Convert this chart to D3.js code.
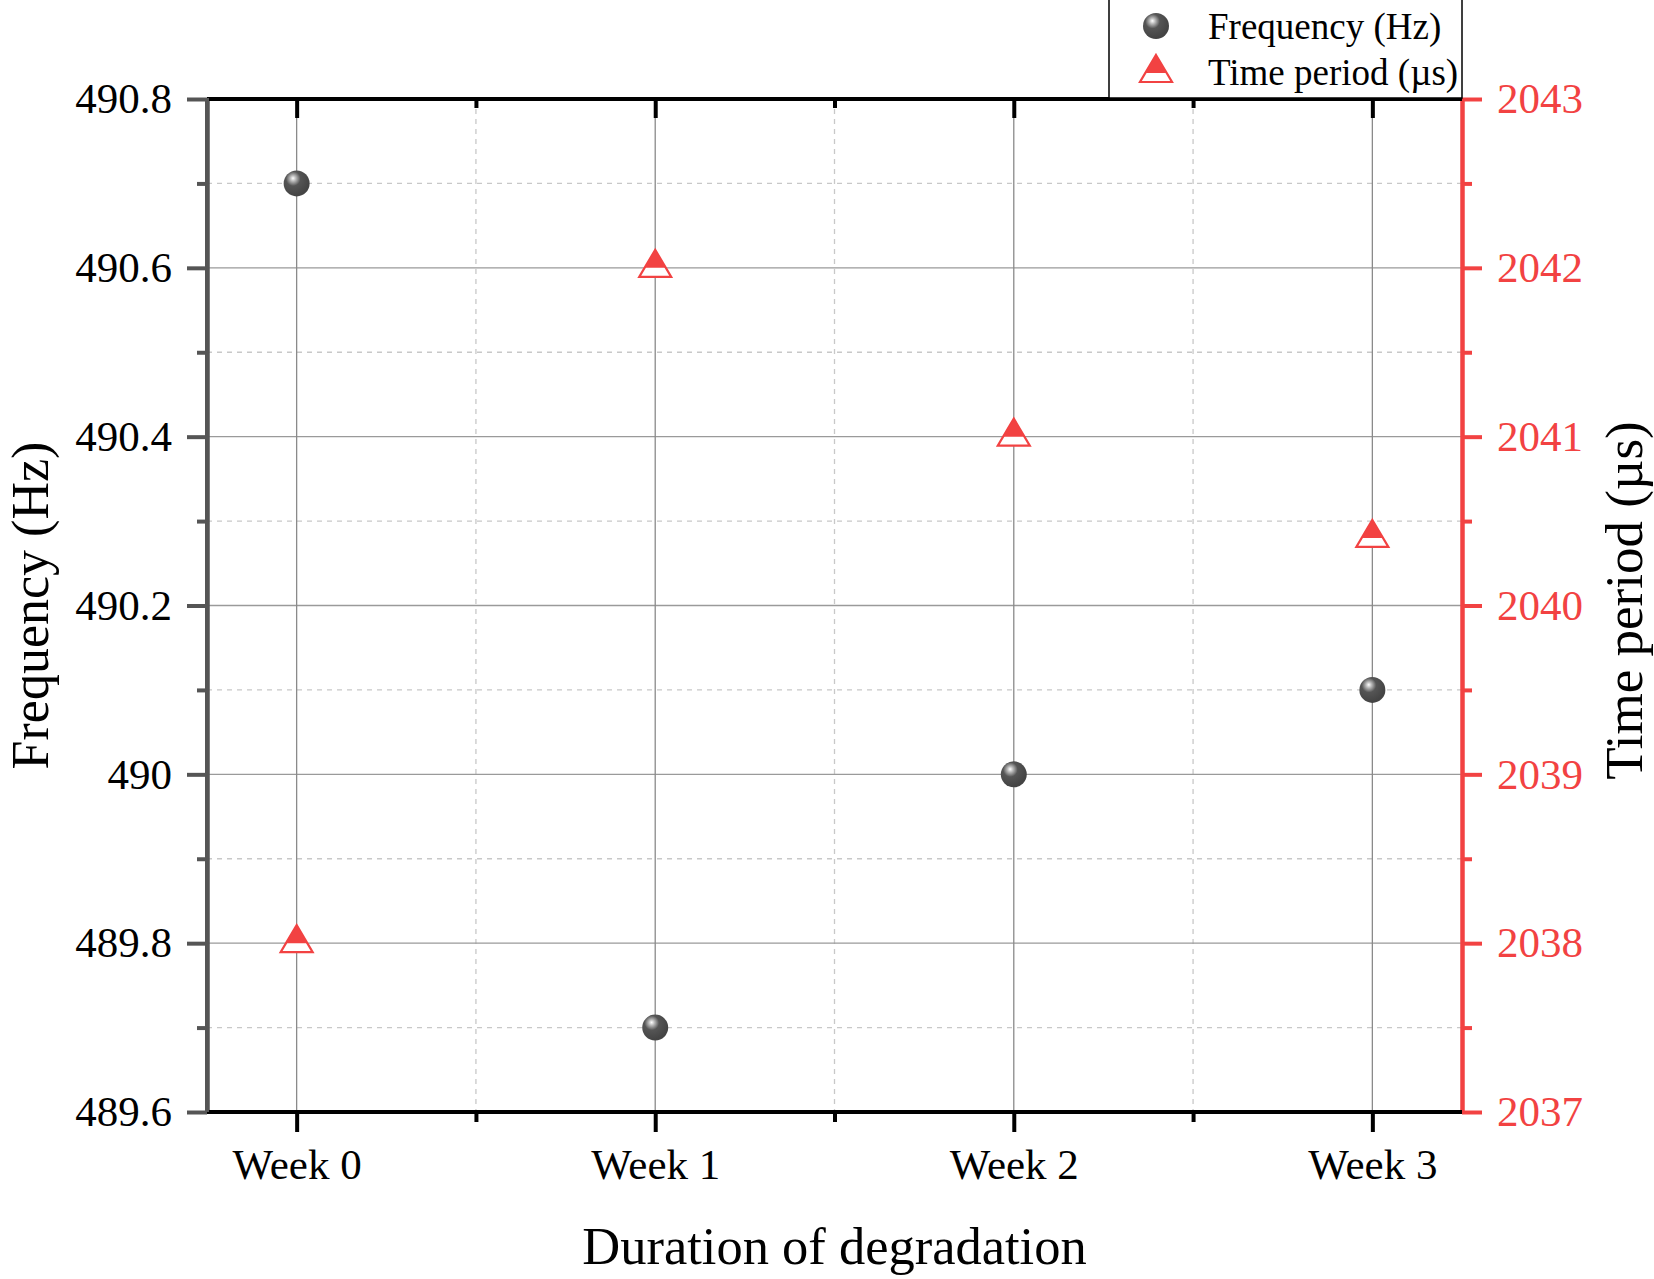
<!DOCTYPE html>
<html>
<head>
<meta charset="utf-8">
<script src="https://cdn.jsdelivr.net/npm/d3@7"></script>
<style>
    body { margin: 0; background: #fff; }
    svg { display: block; font-family: "Liberation Serif", "Times New Roman", serif; }
</style>
</head>
<body>
<div id="chart"></div>
<script>
const weeks = ['Week 0', 'Week 1', 'Week 2', 'Week 3'];
const frequency = [490.7, 489.7, 490.0, 490.1];
const timePeriod = [2038, 2042, 2041, 2040.4];
const freqTicks = [489.6, 489.8, 490, 490.2, 490.4, 490.6, 490.8];
const freqMinor = [489.7, 489.9, 490.1, 490.3, 490.5, 490.7];
const periodTicks = [2037, 2038, 2039, 2040, 2041, 2042, 2043];
const periodMinor = [2037.5, 2038.5, 2039.5, 2040.5, 2041.5, 2042.5];
const seriesNames = ['Frequency (Hz)', 'Time period (\u00b5s)'];

const red = '#f24242';
const width = 1654;
const height = 1279;
const margin = { top: 99, right: 192, bottom: 167, left: 207 };
const plotW = width - margin.left - margin.right;
const plotH = height - margin.top - margin.bottom;

const svg = d3.select('#chart')
    .append('svg')
    .attr('width', width)
    .attr('height', height);

const defs = svg.append('defs');
const grad = defs.append('radialGradient')
    .attr('id', 'sphere')
    .attr('cx', '0.38').attr('cy', '0.34').attr('r', '0.62')
    .attr('fx', '0.36').attr('fy', '0.3');
grad.append('stop').attr('offset', '0').attr('stop-color', '#ffffff');
grad.append('stop').attr('offset', '0.18').attr('stop-color', '#b8b8b8');
grad.append('stop').attr('offset', '0.45').attr('stop-color', '#555555');
grad.append('stop').attr('offset', '1').attr('stop-color', '#444444');

const g = svg.append('g')
    .attr('transform', `translate(${margin.left},${margin.top})`);

const x = d3.scalePoint()
    .domain(weeks)
    .range([0, plotW])
    .padding(0.25);

const yL = d3.scaleLinear().domain([489.6, 490.8]).range([plotH, 0]);
const yR = d3.scaleLinear().domain([2037, 2043]).range([plotH, 0]);

// midpoints between categories for minor x ticks
const xMid = weeks.slice(1).map((w, i) => (x(w) + x(weeks[i])) / 2);

// grid
const grid = g.append('g');
grid.selectAll('.hminor')
    .data(freqMinor)
    .enter().append('line')
    .attr('x1', 0).attr('x2', plotW)
    .attr('y1', d => yL(d)).attr('y2', d => yL(d))
    .attr('stroke', '#c8c8c8').attr('stroke-width', 1.3)
    .attr('stroke-dasharray', '5,5');
grid.selectAll('.vminor')
    .data(xMid)
    .enter().append('line')
    .attr('x1', d => d).attr('x2', d => d)
    .attr('y1', 0).attr('y2', plotH)
    .attr('stroke', '#c8c8c8').attr('stroke-width', 1.3)
    .attr('stroke-dasharray', '5,5');
grid.selectAll('.hmajor')
    .data(freqTicks.slice(1, -1))
    .enter().append('line')
    .attr('x1', 0).attr('x2', plotW)
    .attr('y1', d => yL(d)).attr('y2', d => yL(d))
    .attr('stroke', '#9a9a9a').attr('stroke-width', 1.3);
grid.selectAll('.vmajor')
    .data(weeks)
    .enter().append('line')
    .attr('x1', d => x(d)).attr('x2', d => x(d))
    .attr('y1', 0).attr('y2', plotH)
    .attr('stroke', '#8a8a8a').attr('stroke-width', 1.3);

function styleAxis(sel, color, fontSize) {
    sel.select('.domain').attr('stroke', color).attr('stroke-width', 4);
    sel.selectAll('.tick line').attr('stroke', color).attr('stroke-width', 4);
    sel.selectAll('.tick text')
        .attr('fill', color === '#555' ? '#000' : color)
        .style('font-size', fontSize + 'px')
        .style('font-family', '"Liberation Serif", "Times New Roman", serif');
}

// left axis
const leftMinor = g.append('g')
    .call(d3.axisLeft(yL).tickValues(freqMinor).tickSize(10).tickFormat('').tickSizeOuter(0));
styleAxis(leftMinor, '#555', 43);
const leftAxis = g.append('g')
    .call(d3.axisLeft(yL).tickValues(freqTicks).tickSize(20).tickSizeOuter(0).tickPadding(15)
        .tickFormat(d => String(+d.toFixed(1))));
styleAxis(leftAxis, '#555', 43);

// right axis
const rightMinor = g.append('g')
    .attr('transform', `translate(${plotW},0)`)
    .call(d3.axisRight(yR).tickValues(periodMinor).tickSize(10).tickFormat('').tickSizeOuter(0));
styleAxis(rightMinor, red, 43);
const rightAxis = g.append('g')
    .attr('transform', `translate(${plotW},0)`)
    .call(d3.axisRight(yR).tickValues(periodTicks).tickSize(20).tickSizeOuter(0).tickPadding(15)
        .tickFormat(d3.format('d')));
styleAxis(rightAxis, red, 43);

// top axis (ticks inward)
const topMinor = g.append('g')
    .call(d3.axisTop(d3.scaleIdentity()).tickValues(xMid).tickSize(-9).tickFormat('').tickSizeOuter(0));
topMinor.select('.domain').remove();
styleAxis(topMinor, '#000', 43);
const topAxis = g.append('g')
    .call(d3.axisTop(x).tickSize(-19).tickFormat('').tickSizeOuter(0));
styleAxis(topAxis, '#000', 43);
topAxis.select('.domain').attr('d', `M0,0H${plotW}`);

// bottom axis
const bottomMinor = g.append('g')
    .attr('transform', `translate(0,${plotH})`)
    .call(d3.axisBottom(d3.scaleIdentity()).tickValues(xMid).tickSize(10).tickFormat('').tickSizeOuter(0));
bottomMinor.select('.domain').remove();
styleAxis(bottomMinor, '#000', 43);
const bottomAxis = g.append('g')
    .attr('transform', `translate(0,${plotH})`)
    .call(d3.axisBottom(x).tickSize(20).tickSizeOuter(0).tickPadding(16));
styleAxis(bottomAxis, '#000', 43);
bottomAxis.select('.domain').attr('d', `M0,0H${plotW}`);

// redraw left axis line on top so corners match
g.append('line')
    .attr('x1', 0).attr('x2', 0).attr('y1', -1).attr('y2', plotH)
    .attr('stroke', '#555').attr('stroke-width', 4);

// triangle marker: centroid at (cx, cy), upper half filled
function triangle(sel, cx, cy, s) {
    const up = 18 * s, down = 9 * s, hw = 16 * s;
    sel.append('path')
        .attr('d', `M${cx},${cy - up}L${cx + hw},${cy + down}L${cx - hw},${cy + down}Z`)
        .attr('fill', '#fff').attr('stroke', red).attr('stroke-width', 2.2);
    const k = up / (up + down);
    sel.append('path')
        .attr('d', `M${cx},${cy - up}L${cx + hw * k},${cy}L${cx - hw * k},${cy}Z`)
        .attr('fill', red);
}

function sphere(sel, cx, cy, r) {
    sel.append('circle')
        .attr('cx', cx).attr('cy', cy).attr('r', r)
        .attr('fill', 'url(#sphere)');
}

// data points
const pts = g.append('g');
weeks.forEach((w, i) => {
    triangle(pts, x(w), yR(timePeriod[i]), 1);
});
weeks.forEach((w, i) => {
    sphere(pts, x(w), yL(frequency[i]), 13);
});

// axis titles
svg.append('text')
    .attr('transform', `translate(48,${margin.top + plotH / 2}) rotate(-90)`)
    .attr('text-anchor', 'middle')
    .style('font-size', '52px')
    .text('Frequency (Hz)');

svg.append('text')
    .attr('transform', `translate(1642,${margin.top + plotH / 2 - 5}) rotate(-90)`)
    .attr('text-anchor', 'middle')
    .style('font-size', '53px')
    .text('Time period (\u00b5s)');

svg.append('text')
    .attr('x', margin.left + plotW / 2)
    .attr('y', 1264)
    .attr('text-anchor', 'middle')
    .style('font-size', '52.5px')
    .text('Duration of degradation');

// legend
const legend = svg.append('g');
legend.append('rect')
    .attr('x', 1109).attr('y', -1)
    .attr('width', 1462 - 1109).attr('height', 99)
    .attr('fill', '#fff').attr('stroke', '#000').attr('stroke-width', 1.5);
sphere(legend, 1156, 26, 13);
triangle(legend, 1156, 73, 1);
legend.selectAll('.ltext')
    .data(seriesNames)
    .enter().append('text')
    .attr('x', 1208)
    .attr('y', (d, i) => 39 + i * 46)
    .style('font-size', '37px')
    .text(d => d);
</script>
</body>
</html>
